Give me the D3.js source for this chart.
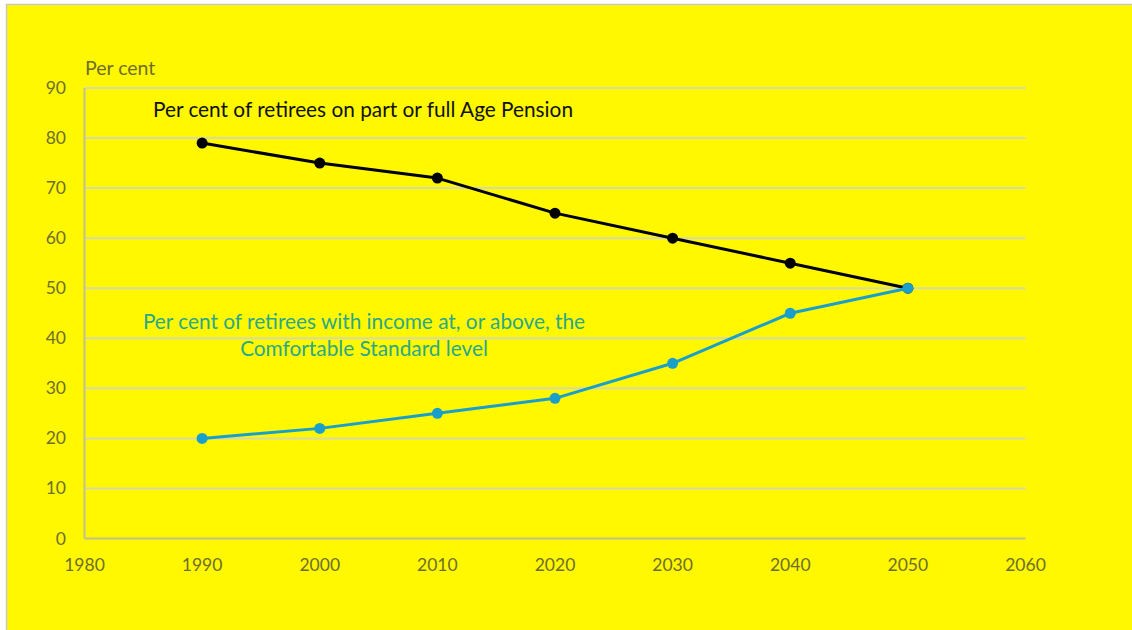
<!DOCTYPE html>
<html>
<head>
<meta charset="utf-8">
<script src="https://cdn.jsdelivr.net/npm/d3@7"></script>
<style>
  html, body { margin: 0; padding: 0; background: #fff; }
  #chart-root { width: 1132px; height: 630px; }
  text { font-family: Lato, "Open Sans", sans-serif; }
</style>
</head>
<body>
<div id="chart-root"></div>
<script>
const years = [1990, 2000, 2010, 2020, 2030, 2040, 2050]
const agePension = [79, 75, 72, 65, 60, 55, 50]
const comfortable = [20, 22, 25, 28, 35, 45, 50]
const xTicks = [1980, 1990, 2000, 2010, 2020, 2030, 2040, 2050, 2060]
const yTicks = [0, 10, 20, 30, 40, 50, 60, 70, 80, 90]

const W = 1132, H = 630
const svg = d3.select('#chart-root').append('svg')
  .attr('width', W).attr('height', H)

// panel
svg.append('rect')
  .attr('x', 6.5).attr('y', 4.5).attr('width', W).attr('height', H)
  .attr('fill', '#fff800').attr('stroke', '#c8c8c8').attr('stroke-width', 1.5)

const x = d3.scaleLinear().domain([1980, 2060]).range([84.5, 1025.5])
const y = d3.scaleLinear().domain([0, 90]).range([538.5, 88])

// gridlines
svg.append('g')
  .selectAll('line')
  .data(yTicks.filter(d => d > 0))
  .join('line')
  .attr('x1', x(1980)).attr('x2', x(2060))
  .attr('y1', d => y(d)).attr('y2', d => y(d))
  .attr('stroke', '#d8d8b0').attr('stroke-width', 2)

// axes lines
svg.append('line')
  .attr('x1', x(1980)).attr('x2', x(2060)).attr('y1', y(0)).attr('y2', y(0))
  .attr('stroke', '#c0c090').attr('stroke-width', 2)
svg.append('line')
  .attr('x1', x(1980)).attr('x2', x(1980)).attr('y1', y(0)).attr('y2', y(90))
  .attr('stroke', '#c0c090').attr('stroke-width', 2)

const tickColor = '#6e6e2a'

svg.append('g')
  .selectAll('text')
  .data(yTicks)
  .join('text')
  .attr('x', 66).attr('y', d => y(d) + 6)
  .attr('text-anchor', 'end')
  .attr('font-size', 17.5).attr('fill', tickColor)
  .text(d => d)

svg.append('g')
  .selectAll('text')
  .data(xTicks)
  .join('text')
  .attr('x', d => x(d)).attr('y', 571)
  .attr('text-anchor', 'middle')
  .attr('font-size', 17.5).attr('fill', tickColor)
  .text(d => d)

svg.append('text')
  .attr('x', 85).attr('y', 75)
  .attr('font-size', 19.5).attr('fill', tickColor)
  .text('Per cent')

const line = d3.line().x((d, i) => x(years[i])).y(d => y(d))

function drawSeries(values, color) {
  svg.append('path')
    .datum(values)
    .attr('d', line)
    .attr('fill', 'none')
    .attr('stroke', color).attr('stroke-width', 3)
    .attr('stroke-linejoin', 'round')
  svg.append('g')
    .selectAll('circle')
    .data(values)
    .join('circle')
    .attr('cx', (d, i) => x(years[i]))
    .attr('cy', d => y(d))
    .attr('r', 5.5)
    .attr('fill', color)
}

drawSeries(agePension, '#000')
drawSeries(comfortable, '#1a9fcb')

svg.append('text')
  .attr('x', 153).attr('y', 117)
  .attr('font-size', 20.8).attr('fill', '#111')
  .text('Per cent of retirees on part or full Age Pension')

const tealLabel = svg.append('text')
  .attr('font-size', 20.8).attr('fill', '#2aa88a')
  .attr('text-anchor', 'middle')
tealLabel.append('tspan').attr('x', 364).attr('y', 329)
  .text('Per cent of retirees with income at, or above, the')
tealLabel.append('tspan').attr('x', 364).attr('y', 356)
  .text('Comfortable Standard level')
</script>
</body>
</html>
